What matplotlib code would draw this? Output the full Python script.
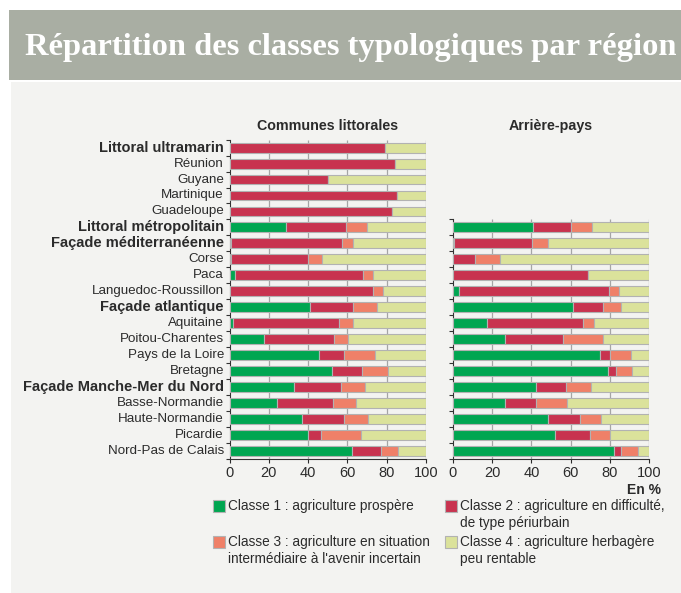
import matplotlib.pyplot as plt
from matplotlib.patches import Rectangle

regions = ["Littoral ultramarin", "Réunion", "Guyane", "Martinique", "Guadeloupe",
           "Littoral métropolitain", "Façade méditerranéenne", "Corse", "Paca",
           "Languedoc-Roussillon", "Façade atlantique", "Aquitaine", "Poitou-Charentes",
           "Pays de la Loire", "Bretagne", "Façade Manche-Mer du Nord", "Basse-Normandie",
           "Haute-Normandie", "Picardie", "Nord-Pas de Calais"]
bold_rows = ["Littoral ultramarin", "Littoral métropolitain", "Façade méditerranéenne",
             "Façade atlantique", "Façade Manche-Mer du Nord"]

# Communes littorales (%)
lit_c1 = [0, 0, 0, 0, 0, 29, 1, 0.7, 3, 0.3, 41, 2, 17.5, 45.5, 52, 33, 24, 37, 40, 62.5]
lit_c2 = [79, 84, 50, 85, 82.5, 30.5, 56, 39.5, 65, 72.5, 22, 53.5, 35.5, 13, 15.5, 23.5, 28.5, 21.5, 6.5, 14.5]
lit_c3 = [0, 0, 0, 0, 0, 10.5, 6, 6.8, 5, 5.5, 12, 7.5, 7.5, 15.5, 13, 12.5, 12, 12, 20.5, 9]
lit_c4 = [21, 16, 50, 15, 17.5, 30, 37, 53, 27, 21.7, 25, 37, 39.5, 26, 19.5, 31, 35.5, 29.5, 33, 14]

# Arrière-pays (%), from Littoral métropolitain onwards
arr_start = 5
arr_c1 = [41, 0.7, 0, 0, 3, 61, 17.5, 26.5, 75, 79, 42.5, 26.5, 48.5, 52, 82]
arr_c2 = [19, 39.5, 11.5, 69, 76.5, 15.5, 49, 29.5, 5, 4, 15, 16, 16.5, 18, 3.5]
arr_c3 = [11, 8.5, 12.5, 0, 5, 9, 5.5, 20.5, 10.5, 8, 13, 15.5, 10.5, 10, 8.5]
arr_c4 = [29, 51.3, 76, 31, 15.5, 14.5, 28, 23.5, 9.5, 9, 29.5, 42, 24.5, 20, 6]

class_labels = ["Classe 1 : agriculture prospère",
                "Classe 2 : agriculture en difficulté,\nde type périurbain",
                "Classe 3 : agriculture en situation\nintermédiaire à l'avenir incertain",
                "Classe 4 : agriculture herbagère\npeu rentable"]
colors = ["#00a651", "#c8334f", "#ef8068", "#dbe29b"]
edge = "#b2b2b2"
txt = "#2b2b2b"

plt.rcParams['font.family'] = ['Liberation Sans', 'DejaVu Sans']

fig = plt.figure(figsize=(6.81, 5.93), dpi=100)
fig.patch.set_facecolor("white")

# background panels
fig.add_artist(Rectangle((11 / 681, 0), 1, 1 - 82 / 593, transform=fig.transFigure,
                         facecolor="#f3f3f1", edgecolor="none", zorder=0))
fig.add_artist(Rectangle((9 / 681, 1 - 80 / 593), 1, 70 / 593, transform=fig.transFigure,
                         facecolor="#a9aea3", edgecolor="none", zorder=0))
fig.text(25 / 681, 1 - 48 / 593, "Répartition des classes typologiques par région",
         family="Liberation Serif", fontweight="bold", fontsize=23.4, color="white",
         va="center", ha="left")

n = len(regions)
top, bot = 139.6, 459.0
ax_l = fig.add_axes([229.5 / 681, 1 - bot / 593, 196.5 / 681, (bot - top) / 593])
ax_r = fig.add_axes([452.7 / 681, 1 - bot / 593, 196.6 / 681, (bot - top) / 593])


def draw(ax, rows, cols, first):
    ax.set_facecolor("none")
    y = list(range(first, first + len(rows)))
    left = [0] * len(rows)
    for vals, c in zip(cols, colors):
        ax.barh(y, vals, left=left, height=0.62, color=c, edgecolor=edge,
                linewidth=0.8, zorder=3)
        left = [a + b for a, b in zip(left, vals)]
    ax.set_ylim(n - 0.5, -0.5)
    ax.set_xlim(0, 100)
    ax.vlines([20, 40, 60, 80, 100], first - 0.5, n - 0.5, color="#a5a5a5",
              linewidth=0.9, zorder=1)
    for s in ["top", "right"]:
        ax.spines[s].set_visible(False)
    ax.spines["left"].set_bounds(first - 0.5, n - 0.5)
    ax.spines["left"].set_color("#333333")
    ax.spines["bottom"].set_color("#333333")
    ax.set_xticks([0, 20, 40, 60, 80, 100])
    ax.tick_params(axis="x", labelsize=10.5, colors=txt, length=3, pad=2)
    ax.set_yticks([i - 0.5 for i in range(first, n + 1)])
    ax.set_yticklabels([])
    ax.tick_params(axis="y", length=3, color="#333333")


draw(ax_l, regions, [lit_c1, lit_c2, lit_c3, lit_c4], 0)
draw(ax_r, regions[arr_start:], [arr_c1, arr_c2, arr_c3, arr_c4], arr_start)

for i, r in enumerate(regions):
    b = r in bold_rows
    ax_l.text(-2.8, i, r, ha="right", va="center", fontsize=10.5 if b else 9.6,
              color=txt, fontweight="bold" if b else "normal")

ax_l.set_title("Communes littorales", fontsize=10.3, fontweight="bold", color=txt, pad=7)
fig.text((452.7 + 98) / 681, 1 - 126 / 593, "Arrière-pays", fontsize=10.3,
         fontweight="bold", color=txt, ha="center", va="center")
fig.text(661 / 681, 1 - 490 / 593, "En %", fontsize=10, fontweight="bold",
         color=txt, ha="right", va="center")

# legend
leg_pos = [(213, 506), (445, 506), (213, 542), (445, 542)]
for (x, y), c, lab in zip(leg_pos, colors, class_labels):
    fig.add_artist(Rectangle((x / 681, 1 - (y + 6) / 593), 12 / 681, 12 / 593,
                             transform=fig.transFigure, facecolor=c, edgecolor=edge,
                             linewidth=0.8))
    fig.text((x + 15) / 681, 1 - (y - 7) / 593, lab, fontsize=9.8, color=txt,
             ha="left", va="top", linespacing=1.25)

fig.savefig("out.png", dpi=100, facecolor="white")
